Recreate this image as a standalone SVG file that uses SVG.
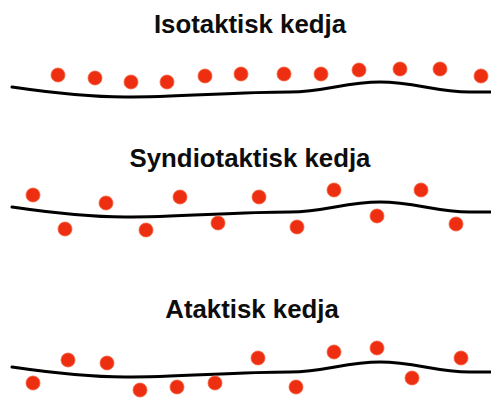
<svg xmlns="http://www.w3.org/2000/svg" xmlns:xlink="http://www.w3.org/1999/xlink" width="491" height="398" viewBox="0 0 491 398">
  <style>
    .title { font-family: "Liberation Sans", Arial, sans-serif; font-weight: bold; font-size: 25.8px; fill: #0d0d0d; text-anchor: middle; }
    .chain { fill: none; stroke: #000; stroke-width: 3; stroke-linecap: round; }
    .dot { fill: #ee2e10; stroke: #f4603f; stroke-width: 0.8; }
  </style>
  <defs>
    <path id="backbone" d="M12,87 C 60,94 90,97 125,97 C 180,97 235,92 290,92 C 325,92 345,82 380,82 C 415,82 435,92 470,92 L 491,92"/>
  </defs>
  <rect width="491" height="398" fill="#fff"/>

  <g id="connectors">
    <use xlink:href="#backbone" href="#backbone" class="chain"/>
    <use xlink:href="#backbone" href="#backbone" class="chain" transform="translate(0,120)"/>
    <use xlink:href="#backbone" href="#backbone" class="chain" transform="translate(0,280)"/>
  </g>

  <g id="isotaktisk">
    <text class="title" x="250" y="33">Isotaktisk kedja</text>
    <circle class="dot" cx="58" cy="75" r="7"/>
    <circle class="dot" cx="95" cy="78" r="7"/>
    <circle class="dot" cx="131" cy="82" r="7"/>
    <circle class="dot" cx="167" cy="82" r="7"/>
    <circle class="dot" cx="205" cy="76" r="7"/>
    <circle class="dot" cx="241" cy="74" r="7"/>
    <circle class="dot" cx="284" cy="74" r="7"/>
    <circle class="dot" cx="321" cy="74" r="7"/>
    <circle class="dot" cx="359" cy="70" r="7"/>
    <circle class="dot" cx="400" cy="69" r="7"/>
    <circle class="dot" cx="440" cy="69" r="7"/>
    <circle class="dot" cx="481" cy="76" r="7"/>
  </g>

  <g id="syndiotaktisk">
    <text class="title" x="250" y="167">Syndiotaktisk kedja</text>
    <circle class="dot" cx="33" cy="195" r="7"/>
    <circle class="dot" cx="65" cy="229" r="7"/>
    <circle class="dot" cx="106" cy="203" r="7"/>
    <circle class="dot" cx="146" cy="230" r="7"/>
    <circle class="dot" cx="180" cy="197" r="7"/>
    <circle class="dot" cx="218" cy="223" r="7"/>
    <circle class="dot" cx="259" cy="197" r="7"/>
    <circle class="dot" cx="297" cy="227" r="7"/>
    <circle class="dot" cx="334" cy="190" r="7"/>
    <circle class="dot" cx="377" cy="216" r="7"/>
    <circle class="dot" cx="421" cy="190" r="7"/>
    <circle class="dot" cx="456" cy="224" r="7"/>
  </g>

  <g id="ataktisk">
    <text class="title" x="252" y="318">Ataktisk kedja</text>
    <circle class="dot" cx="33" cy="383" r="7"/>
    <circle class="dot" cx="68" cy="360" r="7"/>
    <circle class="dot" cx="107" cy="363" r="7"/>
    <circle class="dot" cx="140" cy="390" r="7"/>
    <circle class="dot" cx="177" cy="387" r="7"/>
    <circle class="dot" cx="215" cy="383" r="7"/>
    <circle class="dot" cx="258" cy="358" r="7"/>
    <circle class="dot" cx="296" cy="387" r="7"/>
    <circle class="dot" cx="334" cy="352" r="7"/>
    <circle class="dot" cx="377" cy="348" r="7"/>
    <circle class="dot" cx="412" cy="378" r="7"/>
    <circle class="dot" cx="461" cy="358" r="7"/>
  </g>
</svg>
